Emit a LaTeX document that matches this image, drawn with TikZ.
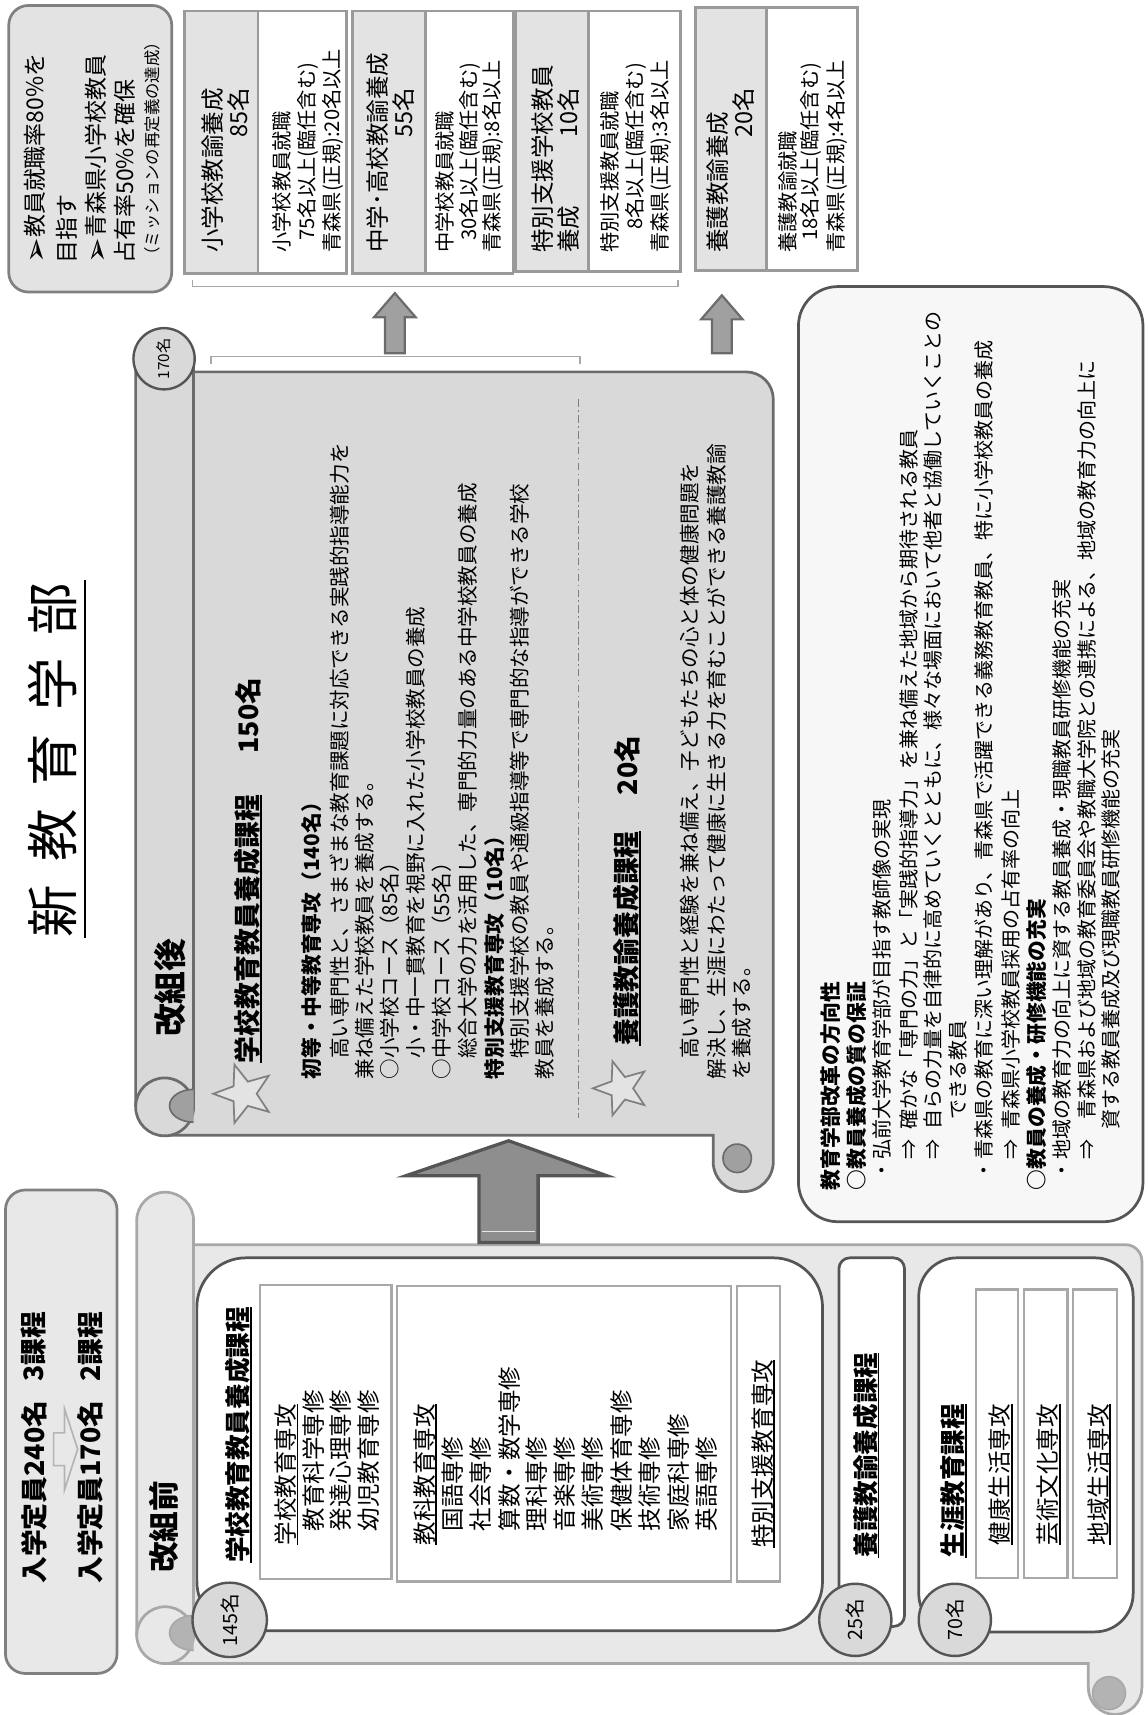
\documentclass[tikz,border=0pt]{standalone}
\usepackage{fontspec}
\setmainfont{Noto Sans CJK JP}
\newfontfamily\dv{DejaVu Sans}
\usetikzlibrary{shapes.geometric}
\newcommand\fs[1]{\fontsize{#1}{#1}\selectfont}
\newcommand\ul[1]{\setbox0\hbox{#1}\rlap{\rule[-0.16em]{\wd0}{0.075em}}\box0}
\newcommand\arr{\raisebox{-0.12em}{\dv\fs{28}➢}}
\definecolor{dkA}{HTML}{6B6B6B}
\definecolor{dkB}{HTML}{555555}
\definecolor{gA}{HTML}{808080}
\definecolor{gB}{HTML}{9A9A9A}
\definecolor{gC}{HTML}{A8A8A8}
\definecolor{gD}{HTML}{B3B3B3}
\definecolor{gE}{HTML}{A0A0A0}
\definecolor{gF}{HTML}{8E8E8E}
\definecolor{fA}{HTML}{D9D9D9}
\definecolor{fB}{HTML}{E3E3E3}
\definecolor{fC}{HTML}{E8E8E8}
\definecolor{fD}{HTML}{F7F7F7}
\begin{document}
\begin{tikzpicture}[x=1pt,y=-1pt,
 vt/.style={rotate=90,anchor=west,inner sep=0pt,outer sep=0pt},
 ve/.style={rotate=90,anchor=east,inner sep=0pt,outer sep=0pt},
 cnum/.style={circle,draw=dkB,fill=fA,line width=2.2pt,inner sep=0pt,rotate=90},
 starA/.style={star,star points=5,star point ratio=2.4,minimum size=#1,inner sep=0pt,draw=gA,fill=fB,line width=1.6pt,rotate=90},
 rb/.style={vt,font=\fs{18.3}},
 rbb/.style={vt,font=\bfseries\fs{19}},
 sc/.style={vt,font=\fs{18.8}},
 scb/.style={vt,font=\bfseries\fs{19}},
 it/.style={vt,font=\fs{21.5}},
 gt/.style={vt,font=\fs{21.5}},
 wt/.style={vt,font=\fs{18.5}},
]
\useasboundingbox (0,0) rectangle (1049,1568);

% ---------- top-left box
\draw[line width=2.5pt,draw=gA,fill=fB,rounded corners=18pt] (8,5) rectangle (157,267);
\node[vt,font=\fs{21}] (tl1) at (32,241) {\arr 教員就職率80\%を};
\node[vt,font=\fs{21}] (tl2) at (61,241) {目指す};
\node[vt,font=\fs{21}] (tl3) at (88,241) {\arr 青森県小学校教員};
\node[vt,font=\fs{21}] (tl4) at (114,241) {占有率50\%を確保};
\node[vt,font=\fs{15}] (tl5) at (139,241) {（ミッションの再定義の達成）};

% ---------- top boxes
\foreach \a/\b/\c/\t/\e in {169/236/317/10/250, 322/389/469/10/250, 471/538/622/10/248, 636/701/784/7/247} {
 \draw[line width=2.5pt,draw=gB,fill=fB] (\a,\t) rectangle (\b,\e);
 \draw[line width=2.5pt,draw=gB,fill=white] (\b,\t) rectangle (\c,\e);
}
\node[gt] (g1a) at (194,231) {小学校教諭養成};
\node[ve,font=\fs{21.5}] (g1b) at (218,80) {85名};
\node[wt] (w1a) at (258,231) {小学校教員就職};
\node[wt] (w1b) at (282,220) {75名以上(臨任含む)};
\node[wt] (w1c) at (304,231) {青森県(正規):20名以上};
\node[gt] (g2a) at (345,231) {中学･高校教諭養成};
\node[ve,font=\fs{21.5}] (g2b) at (369,80) {55名};
\node[wt] (w2a) at (407,231) {中学校教員就職};
\node[wt] (w2b) at (430,220) {30名以上(臨任含む)};
\node[wt] (w2c) at (451,231) {青森県(正規):8名以上};
\node[gt] (g3a) at (496,231) {特別支援学校教員};
\node[gt] (g3b) at (520,231) {養成};
\node[ve,font=\fs{21.5}] (g3c) at (520,80) {10名};
\node[wt] (w3a) at (558,231) {特別支援教員就職};
\node[wt] (w3b) at (581,210) {8名以上(臨任含む)};
\node[wt] (w3c) at (604,231) {青森県(正規):3名以上};
\node[gt] (g4a) at (656,231) {養護教諭養成};
\node[ve,font=\fs{21.5}] (g4b) at (680,80) {20名};
\node[wt] (w4a) at (720,231) {養護教諭就職};
\node[wt] (w4b) at (741,220) {18名以上(臨任含む)};
\node[wt] (w4c) at (765,231) {青森県(正規):4名以上};

% brackets
\draw[gC,line width=1.5pt] (176,256) -- (176,262) -- (620,262) -- (620,256);
\draw[gC,line width=1.5pt] (193,333) -- (193,326) -- (530,326) -- (530,333);
% small arrows
\draw[fill=gE,draw=dkA,line width=2pt,line join=miter] (361,268) -- (380,290) -- (370,290) -- (370,323) -- (352,323) -- (352,290) -- (342,290) -- cycle;
\draw[fill=gE,draw=dkA,line width=2pt,line join=miter] (660,270) -- (679,292) -- (669,292) -- (669,323) -- (651,323) -- (651,292) -- (641,292) -- cycle;

% ---------- right box
\draw[fill=fD,draw=dkB,line width=2.5pt,rounded corners=36pt] (730,262) rectangle (1045,1117);
\node[rbb] (r1) at (759,1088) {教育学部改革の方向性};
\node[rbb] (r2) at (783,1088) {○教員養成の質の保証};
\node[rb] (r3) at (806,1088) {\hspace{.5em}・弘前大学教育学部が目指す教師像の実現};
\node[rb] (r4) at (831,1088) {\hspace{1.5em}⇒\hspace{.5em}確かな「専門の力」と「実践的指導力」を兼ね備えた地域から期待される教員};
\node[rb] (r5) at (853,1088) {\hspace{1.5em}⇒\hspace{.5em}自らの力量を自律的に高めていくとともに、様々な場面において他者と協働していくことの};
\node[rb] (r6) at (876,1088) {\hspace{3.5em}できる教員};
\node[rb] (r7) at (900,1088) {\hspace{.5em}・青森県の教育に深い理解があり、青森県で活躍できる義務教育教員、特に小学校教員の養成};
\node[rb] (r8) at (924,1088) {\hspace{1.5em}⇒\hspace{.5em}青森県小学校教員採用の占有率の向上};
\node[rbb] (r9) at (948,1088) {○教員の養成・研修機能の充実};
\node[rb] (r10) at (971,1088) {\hspace{.5em}・地域の教育力の向上に資する教員養成・現職教員研修機能の充実};
\node[rb] (r11) at (994,1088) {\hspace{1.5em}⇒\hspace{1em}青森県および地域の教育委員会や教職大学院との連携による、地域の教育力の向上に};
\node[rb] (r12) at (1016,1088) {\hspace{3em}資する教員養成及び現職教員研修機能の充実};

% ---------- scroll (after)
\path[draw=dkA,fill=fA,line width=2.5pt] (150,340) -- (682,340) .. controls (695.8,340) and (707,351.2) .. (707,365) -- (707,1062) .. controls (707,1077.2) and (694.7,1089.5) .. (679.5,1089.5) .. controls (664.3,1089.5) and (652,1077.2) .. (652,1062) -- (652,1038) -- (150,1038) -- cycle;
\draw[fill=gE,draw=dkA,line width=1.5pt] (674,1059) circle (13pt);
\draw[draw=dkA,fill=fA,line width=2.5pt,rounded corners=26.5pt] (124,305) rectangle (177,1038.5);
\begin{scope}
 \clip (115,975) rectangle (185,1012);
 \draw[dkA,line width=2.5pt] (150.5,1012) circle (26.5pt);
\end{scope}
\begin{scope}
 \clip (120,990) rectangle (177,1035);
 \fill[gE] (177,1011) ellipse [x radius=22pt, y radius=15pt];
 \draw[dkA,line width=1.5pt] (177,1011) ellipse [x radius=22pt, y radius=15pt];
\end{scope}
\node[cnum,minimum size=56pt,font=\fs{14}] (c170) at (150,328) {170名};
\node[vt,font=\bfseries\fs{30}] (after) at (155,948) {改組後};
\node[starA=56pt] (st1) at (223,1000) {};
\node[vt,font=\bfseries\fs{24.5}] (h1) at (227,972) {\ul{学校教育教員養成課程}};
\node[vt,font=\bfseries\fs{24.5}] (h1n) at (227,689) {150名};
\node[scb] (a1) at (285,987) {初等・中等教育専攻（140名）};
\node[sc] (a2) at (310,987) {　高い専門性と、さまざまな教育課題に対応できる実践的指導能力を};
\node[sc] (a3) at (333,987) {兼ね備えた学校教員を養成する。};
\node[sc] (a4) at (356,987) {○小学校コース（85名）};
\node[sc] (a5) at (380,987) {　小・中一貫教育を視野に入れた小学校教員の養成};
\node[sc] (a6) at (404,987) {○中学校コース（55名）};
\node[sc] (a7) at (428,987) {　総合大学の力を活用した、専門的力量のある中学校教員の養成};
\node[scb] (a8) at (452,987) {特別支援教育専攻（10名）};
\node[sc] (a9) at (475,987) {　特別支援学校の教員や通級指導等で専門的な指導ができる学校};
\node[sc] (a10) at (498,987) {教員を養成する。};
\draw[gA,line width=1.3pt,dash pattern=on 7pt off 3pt on 1.5pt off 3pt] (529,365) -- (529,1022);
\node[starA=52pt] (st2) at (568,995) {};
\node[vt,font=\bfseries\fs{24.5}] (h2) at (573,956) {\ul{養護教諭養成課程}};
\node[vt,font=\bfseries\fs{24.5}] (h2n) at (573,727) {20名};
\node[sc] (b1) at (631,987) {　高い専門性と経験を兼ね備え、子どもたちの心と体の健康問題を};
\node[sc] (b2) at (655,987) {解決し、生涯にわたって健康に生きる力を育むことができる養護教諭};
\node[sc] (b3) at (678,987) {を養成する。};

% ---------- lower-left box
\draw[line width=2.5pt,draw=gA,fill=fC,rounded corners=18pt] (5,1088) rectangle (107,1530);
\node[vt,font=\bfseries\fs{24.5}] (e1) at (31,1448) {入学定員240名};
\node[vt,font=\bfseries\fs{24.5}] (e2) at (31,1263) {3課程};
\node[vt,font=\bfseries\fs{24.5}] (e3) at (83,1448) {入学定員170名};
\node[vt,font=\bfseries\fs{24.5}] (e4) at (83,1263) {2課程};
\draw[fill=fC,draw=gD,line width=1.5pt,line join=miter] (71,1325) -- (59,1362) -- (59,1340) -- (49,1340) -- (49,1310) -- (59,1310) -- (59,1288) -- cycle;

% ---------- scroll (before)
\path[draw=gC,fill=fC,line width=2.5pt] (150,1138) -- (1029,1138) .. controls (1037.3,1138) and (1044,1144.7) .. (1044,1153) -- (1044,1543) .. controls (1044,1556.5) and (1033,1567.5) .. (1019.5,1567.5) .. controls (1006,1567.5) and (995,1556.5) .. (995,1543) -- (995,1521) -- (150,1521) -- cycle;
\draw[fill=gD,draw=gC,line width=1.5pt] (1014,1548) circle (15pt);
\draw[draw=gC,fill=fC,line width=2.5pt,rounded corners=26pt] (125,1090) rectangle (177,1521);
\begin{scope}
 \clip (115,1460) rectangle (185,1495);
 \draw[gC,line width=2.5pt] (151,1495) circle (26pt);
\end{scope}
\begin{scope}
 \clip (120,1470) rectangle (177,1520);
 \fill[gD] (177,1493) ellipse [x radius=22pt, y radius=16pt];
 \draw[gC,line width=1.5pt] (177,1493) ellipse [x radius=22pt, y radius=16pt];
\end{scope}
\node[vt,font=\bfseries\fs{28}] (before) at (150,1438) {改組前};

% inner boxes
\draw[fill=white,draw=dkB,line width=2.5pt,rounded corners=45pt] (180,1150) rectangle (752,1491);
\draw[fill=white,draw=gC,line width=2pt] (238,1175) rectangle (358,1444);
\draw[fill=white,draw=gC,line width=2pt] (363,1176) rectangle (668,1446);
\draw[fill=white,draw=gC,line width=2pt] (674,1176) rectangle (713,1446);
\draw[fill=white,draw=dkB,line width=2.5pt,rounded corners=10pt] (767,1150) rectangle (827,1487);
\draw[fill=white,draw=dkB,line width=2.5pt,rounded corners=35pt] (840,1150) rectangle (1036,1492);
\draw[fill=white,draw=gC,line width=2pt] (892,1179) rectangle (931,1443);
\draw[fill=white,draw=gC,line width=2pt] (936,1179) rectangle (976,1443);
\draw[fill=white,draw=gC,line width=2pt] (981,1179) rectangle (1021,1443);

\node[vt,font=\bfseries\fs{23.4}] (k1) at (218,1429) {\ul{学校教育教員養成課程}};
\node[it] (k2) at (262,1413) {\ul{学校教育専攻}};
\node[it] (k3) at (287,1400) {教育科学専修};
\node[it] (k4) at (311,1400) {発達心理専修};
\node[it] (k5) at (337,1400) {幼児教育専修};
\node[it] (k6) at (389,1413) {\ul{教科教育専攻}};
\node[it] (m1) at (414,1400) {国語専修};
\node[it] (m2) at (439,1400) {社会専修};
\node[it] (m3) at (466,1400) {算数・数学専修};
\node[it] (m4) at (491,1400) {理科専修};
\node[it] (m5) at (516,1400) {音楽専修};
\node[it] (m6) at (542,1400) {美術専修};
\node[it] (m7) at (568,1400) {保健体育専修};
\node[it] (m8) at (594,1400) {技術専修};
\node[it] (m9) at (620,1400) {家庭科専修};
\node[it] (m10) at (646,1400) {英語専修};
\node[it] (k7) at (698,1415) {\ul{特別支援教育専攻}};
\node[vt,font=\bfseries\fs{23.4}] (k8) at (792,1424) {\ul{養護教諭養成課程}};
\node[vt,font=\bfseries\fs{23.4}] (k9) at (872,1424) {\ul{生涯教育課程}};
\node[it] (k10) at (915,1413) {\ul{健康生活専攻}};
\node[it] (k11) at (959,1413) {\ul{芸術文化専攻}};
\node[it] (k12) at (1005,1413) {\ul{地域生活専攻}};

\node[cnum,minimum size=68pt,font=\fs{18}] (c145) at (210,1481) {145名};
\node[cnum,minimum size=66pt,font=\fs{18}] (c25) at (782,1481) {25名};
\node[cnum,minimum size=66pt,font=\fs{18}] (c70) at (873,1481) {70名};

% big arrow
\draw[fill=gF,draw=dkB,line width=3pt,line join=miter] (465,1043) -- (555,1075) -- (492,1075) -- (492,1136) -- (438,1136) -- (438,1075) -- (371,1075) -- cycle;
\draw[fC,line width=1pt] (441,1126) -- (489,1126);

% title
\node[vt,font=\fs{48}] (title) at (48,857) {新\hspace{21pt}教\hspace{21pt}育\hspace{21pt}学\hspace{21pt}部};
\draw[black,line width=1.6pt] (78,530) -- (78,858);
\end{tikzpicture}
\end{document}
